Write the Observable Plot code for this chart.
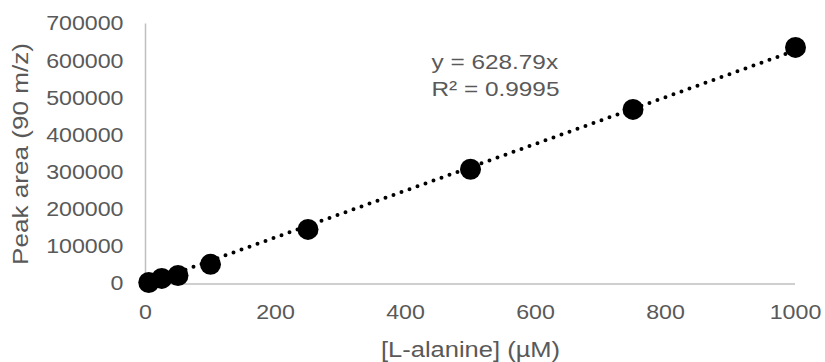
<!DOCTYPE html>
<html>
<head>
<meta charset="utf-8">
<script src="https://cdn.jsdelivr.net/npm/d3@7"></script>
<script src="https://cdn.jsdelivr.net/npm/@observablehq/plot@0.6"></script>
<style>
  html, body { margin: 0; padding: 0; background: #fff; }
</style>
</head>
<body>
<div id="chart"></div>
<script>
// Data
const concentration = [5, 25, 50, 100, 250, 500, 750, 1000];
const peakArea = [4000, 15000, 23000, 53000, 147000, 309000, 470000, 637000];
// Linear trendline (y = 628.79x) endpoints
const trendX = [0, 1000];
const trendY = [0, 628790];
const xTicks = [0, 200, 400, 600, 800, 1000];
const yTicks = [0, 100000, 200000, 300000, 400000, 500000, 600000, 700000];
const xTitle = "[L-alanine] (µM)";
const yTitle = "Peak area (90 m/z)";
const equation = "y = 628.79x\nR² = 0.9995";

const points = concentration.map((c, i) => ({x: c, y: peakArea[i]}));
const trend = trendX.map((x, i) => ({x, y: trendY[i]}));

const textColor = "#595959";
const axisColor = "#bfbfbf";

const chart = Plot.plot({
  width: 825,
  height: 362,
  marginLeft: 145,
  marginRight: 30,
  marginTop: 23.5,
  marginBottom: 78.5,
  style: {fontFamily: "'Liberation Sans', Arial, sans-serif", background: "#fff"},
  x: {domain: [0, 1000]},
  y: {domain: [0, 700000]},
  marks: [
    Plot.ruleX([0], {stroke: axisColor, strokeWidth: 1.5}),
    Plot.ruleY([0], {stroke: axisColor, strokeWidth: 1.5}),
    Plot.axisX({ticks: xTicks, tickSize: 0, tickPadding: 21, fontSize: 20, fill: textColor, label: null, tickFormat: d => String(d)}),
    Plot.axisY({ticks: yTicks, tickSize: 0, tickPadding: 22, fontSize: 20, fill: textColor, label: null, tickFormat: d => String(d)}),
    Plot.line(trend, {x: "x", y: "y", stroke: "#000", strokeWidth: 4, strokeDasharray: "0 8.5", strokeLinecap: "round"}),
    Plot.dot(points, {x: "x", y: "y", r: 10.5, fill: "#000", stroke: "none"}),
    Plot.text([equation], {text: d => d, frameAnchor: "top-left", dx: 286, dy: 27, textAnchor: "start", lineAnchor: "top", lineHeight: 1.24, fontSize: 21, fill: textColor}),
    Plot.text([xTitle], {text: d => d, frameAnchor: "bottom", dy: 65.5, textAnchor: "middle", lineAnchor: "middle", fontSize: 22, fill: textColor}),
    Plot.text([yTitle], {text: d => d, frameAnchor: "left", dx: -125, rotate: -90, textAnchor: "middle", lineAnchor: "middle", fontSize: 22.5, fill: textColor})
  ]
});

// The reference text is rendered wider than Arial; stretch along the text direction
chart.querySelectorAll("text").forEach(t => {
  const tr = t.getAttribute("transform") || "";
  t.setAttribute("transform", `${tr} scale(1.16,1)`);
});

document.getElementById("chart").appendChild(chart);
</script>
</body>
</html>
